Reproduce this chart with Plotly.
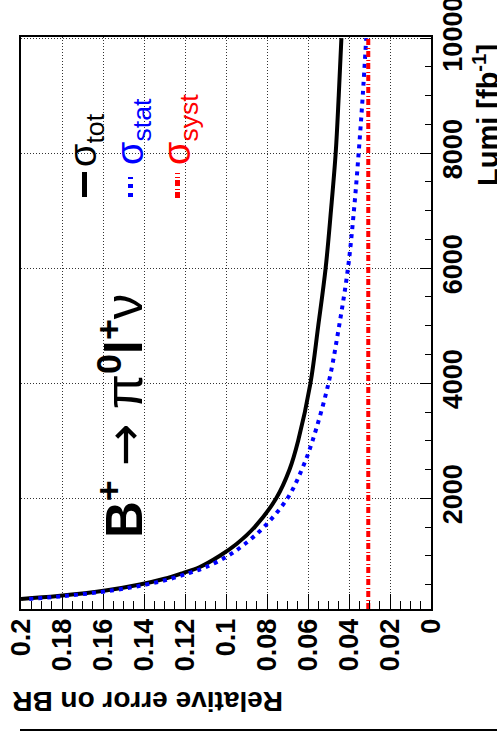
import plotly.graph_objects as go

# Integrated luminosity points (fb^-1) and relative BR errors
lumi = [250, 300, 400, 500, 600, 700, 800, 1000, 1200, 1500, 2000,
        2500, 3000, 4000, 5000, 6000, 7000, 8000, 9000, 10000]
sigma_tot = [0.200, 0.182, 0.158, 0.142, 0.130, 0.121, 0.113, 0.103, 0.0950,
             0.0860, 0.0755, 0.0690, 0.0648, 0.0588, 0.0550, 0.0514, 0.0488,
             0.0465, 0.0450, 0.0437]
sigma_stat = [0.196, 0.179, 0.155, 0.139, 0.127, 0.118, 0.110, 0.0990, 0.0910,
              0.0815, 0.0700, 0.0630, 0.0578, 0.0500, 0.0448, 0.0405, 0.0376,
              0.0353, 0.0333, 0.0316]
syst_lumi = [75, 10000]
sigma_syst = [0.0306, 0.0306]

err_ticks = [0, 0.02, 0.04, 0.06, 0.08, 0.1, 0.12, 0.14, 0.16, 0.18, 0.2]
err_labels = ["0", "0.02", "0.04", "0.06", "0.08", "0.1", "0.12", "0.14",
              "0.16", "0.18", "0.2"]
lumi_ticks = [2000, 4000, 6000, 8000, 10000]
lumi_labels = ["2000", "4000", "6000", "8000", "10000"]

W, H = 497, 731
ML, MR, MT, MB = 21, 66, 37, 122
PW, PH = W - ML - MR, H - MT - MB


def px(x):
    return (x - ML) / PW


def py(y):
    return (H - MB - y) / PH


FONT = "Liberation Sans, Arial, Helvetica, sans-serif"

fig = go.Figure()

fig.add_trace(go.Scatter(x=sigma_tot, y=lumi, mode="lines",
                         line=dict(color="black", width=4, shape="spline")))
fig.add_trace(go.Scatter(x=sigma_stat, y=lumi, mode="lines",
                         line=dict(color="#0000ff", width=4, dash="4px,5px",
                                   shape="spline")))
fig.add_trace(go.Scatter(x=sigma_syst, y=syst_lumi, mode="lines",
                         line=dict(color="#ff0000", width=4,
                                   dash="6px,2px,1px,3px")))

fig.update_layout(
    width=W, height=H,
    margin=dict(l=ML, r=MR, t=MT, b=MB, pad=0, autoexpand=False),
    paper_bgcolor="white", plot_bgcolor="white",
    showlegend=False,
    font=dict(family=FONT, color="black"),
)

fig.update_xaxes(
    range=[0.2, 0], tickmode="array", tickvals=err_ticks, ticktext=err_labels,
    tickangle=-90, ticks="inside", ticklen=15, tickwidth=1, tickcolor="black",
    tickfont=dict(family=FONT, size=27, weight="bold", color="black"),
    minor=dict(ticks="inside", ticklen=8, tickwidth=1, tickcolor="black",
               dtick=0.005, tick0=0, showgrid=False),
    showline=True, mirror=True, linecolor="black", linewidth=2,
    showgrid=True, gridcolor="#333333", gridwidth=1, griddash="1px,2px",
    zeroline=False, ticklabeloverflow="allow", automargin=False,
    ticklabelstandoff=-3,
)
fig.update_yaxes(
    range=[75, 10020], side="right", tickmode="array", tickvals=lumi_ticks,
    ticktext=lumi_labels, tickangle=-90, ticks="inside", ticklen=11,
    tickwidth=1, tickcolor="black",
    tickfont=dict(family=FONT, size=27, weight="bold", color="black"),
    minor=dict(ticks="inside", ticklen=6, tickwidth=1, tickcolor="black",
               dtick=500, tick0=0, showgrid=False),
    showline=True, mirror=True, linecolor="black", linewidth=2,
    showgrid=True, gridcolor="#333333", gridwidth=1, griddash="1px,2px",
    zeroline=False, ticklabeloverflow="allow", automargin=False,
    ticklabelstandoff=-3,
)

annotations = [
    # axis titles
    dict(text="<b>Relative error on BR</b>", x=px(147.5), y=py(702),
         textangle=180, font=dict(size=28)),
    dict(text="<b>Lumi [fb<sup>-1</sup>]</b>", x=px(486), y=py(115),
         textangle=-90, font=dict(size=29)),
    # decay label
    dict(text="<b>B<sup>+</sup></b> "
              "<span style=\"font-family:'DejaVu Sans'\">→</span> "
              "π<b><sup>0</sup>l<sup>+</sup></b>ν",
         x=px(121), y=py(416), textangle=-90, font=dict(size=51)),
    # legend entries
    dict(text="σ<sub>tot</sub>", x=px(86), y=py(140), textangle=-90,
         font=dict(size=38, color="black")),
    dict(text="σ<sub>stat</sub>", x=px(133), y=py(132), textangle=-90,
         font=dict(size=38, color="#0000ff")),
    dict(text="σ<sub>syst</sub>", x=px(180), y=py(130), textangle=-90,
         font=dict(size=38, color="#ff0000")),
]
for a in annotations:
    a.update(xref="paper", yref="paper", showarrow=False,
             xanchor="center", yanchor="middle")
    a["font"].setdefault("family", FONT)
    a["font"].setdefault("color", "black")
fig.update_layout(annotations=annotations)

shapes = [
    dict(type="line", x0=px(84.5), x1=px(84.5), y0=py(197), y1=py(172),
         line=dict(color="black", width=5)),
    dict(type="line", x0=px(130.5), x1=px(130.5), y0=py(197), y1=py(177),
         line=dict(color="#0000ff", width=5, dash="4px,5px")),
    dict(type="line", x0=px(177.5), x1=px(177.5), y0=py(198), y1=py(173),
         line=dict(color="#ff0000", width=5, dash="6px,2px,1px,3px")),
    dict(type="line", x0=px(20), x1=px(497), y0=py(730), y1=py(730),
         line=dict(color="black", width=2)),
]
for s in shapes:
    s.update(xref="paper", yref="paper")
fig.update_layout(shapes=shapes)

fig.write_html("out.html")
